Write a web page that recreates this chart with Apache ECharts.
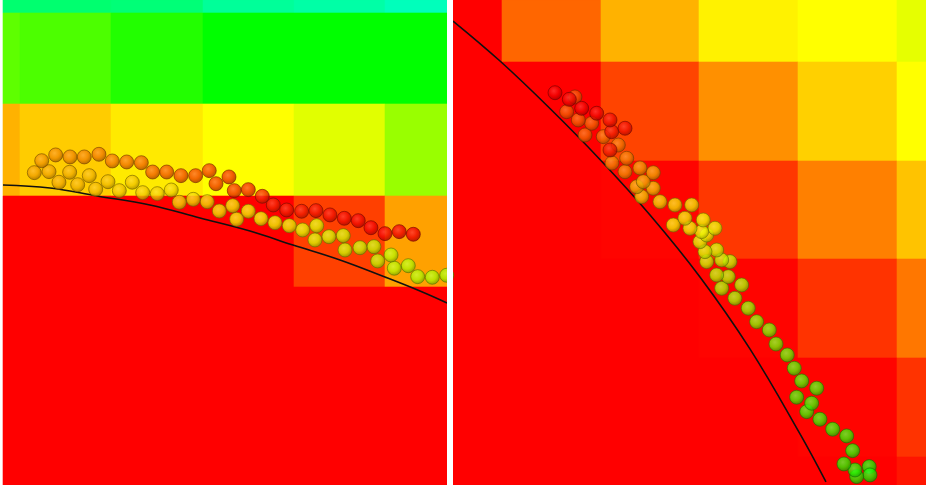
<!DOCTYPE html>
<html>
<head>
<meta charset="utf-8">
<script src="https://cdn.jsdelivr.net/npm/echarts@6/dist/echarts.min.js"></script>
<style>
html,body{margin:0;padding:0;background:#fff;}
#chart{width:926px;height:485px;}
</style>
</head>
<body>
<div id="chart"></div>
<script>
// ---------- heat map cells (cell starts, in axis units; value = hue in degrees) ----------
const leftCellX = [-10, 0, 10, 20, 30, 40];
const leftCellY = [-10, 0, 10, 20, 30, 40, 50];
const leftCellHue = [
  [146, 146, 148, 156, 159, 164],
  [98, 102, 112, 120, 120, 120],
  [42, 48, 55, 60, 67, 84],
  [0, 0, 0, 0, 15, 38],
  [0, 0, 0, 0, 0, 0],
  [0, 0, 0, 0, 0, 0],
  [0, 0, 0, 0, 0, 0]
];
const rightCellX = [-10, 0, 10, 20, 30, 40];
const rightCellY = [-10, 0, 10, 20, 30, 40];
const rightCellHue = [
  [0, 24, 42, 57, 60, 66],
  [0, 0, 16, 34, 49, 60],
  [0, 0, 1, 13, 30, 46],
  [0, 0, 0, 1, 12, 28],
  [0, 0, 0, 0, 1, 12],
  [0, 0, 0, 0, 0, 5]
];

// ---------- boundary curves ----------
const leftBoundary = [
  [-1.86, 18.84], [3.29, 19.17], [8.43, 20.04], [14.24, 21.03], [19.72, 22.45],
  [25.19, 23.88], [29.90, 25.41], [35.05, 27.05], [39.98, 28.92], [43.81, 30.45], [46.77, 31.76]
];
const rightBoundary = [
  [-4.96, -4.15], [-0.20, -0.10], [4.86, 4.71], [9.92, 9.87], [14.99, 15.49],
  [20.05, 21.77], [25.11, 29.06], [30.18, 37.67], [32.81, 42.53]
];

// ---------- trails: [x, y, hue] ----------
const leftTrail = [
  [46.74,28.73,78],[45.16,28.95,77],[43.56,28.88,76],[42.53,27.68,75],[41.00,27.96,74],
  [40.64,26.51,73],[39.18,27.16,72],[38.77,25.60,71],[37.24,25.71,70],[35.60,25.96,69],
  [35.41,24.39,68],[33.84,24.50,67],[32.31,24.86,66],[32.50,23.30,65],[30.96,23.77,64],
  [29.50,23.30,62],[27.93,22.97,61],[26.40,22.53,60],[25.01,21.72,59],[23.73,22.60,58],
  [23.30,21.11,57],[21.83,21.69,56],[20.51,20.67,55],[18.98,20.41,54],[17.45,20.73,53],
  [16.57,19.39,52],[15.04,19.79,51],[13.44,19.68,50],[12.30,18.54,49],[10.88,19.46,48],
  [9.64,18.48,47],[8.29,19.31,46],[7.59,17.82,45],[6.32,18.81,44],[5.44,17.45,43],
  [4.27,18.54,42],[3.18,17.38,41],[1.57,17.49,40],
  [2.38,16.18,37],[3.91,15.55,35],[5.48,15.77,34],[7.04,15.77,33],[8.65,15.48,31],
  [10.11,16.21,30],[11.69,16.32,28],[13.29,16.40,26],[14.53,17.42,24],[16.07,17.42,22],
  [17.63,17.82,20],[19.24,17.82,18],[20.73,17.27,16],[21.47,18.70,15],[22.89,17.96,13],
  [23.47,19.46,12],[25.01,19.35,10],[26.54,20.08,9],[27.74,21.03,8],[29.21,21.58,7],
  [30.85,21.72,6],[32.42,21.65,5],[33.95,22.12,4],[35.52,22.49,3],[37.05,22.75,2],
  [38.44,23.52,1],[39.98,24.17,1],[41.54,23.95,0],[43.08,24.24,0]
];
const rightTrail = [
  [37.19,40.98,114],[37.27,41.82,114],[35.92,41.99,112],[35.75,41.32,111],[34.63,40.71,110],
  [35.51,39.36,108],[34.91,37.87,107],[33.49,37.19,106],[32.20,36.18,105],[30.86,35.41,104],
  [31.36,34.56,103],[29.84,33.95,102],[31.87,33.04,101],[30.35,32.30,100],[29.60,31.02,98],
  [28.89,29.67,95],[27.75,28.56,92],[27.07,27.14,89],[25.79,26.30,86],[24.94,24.94,83],
  [23.59,23.93,80],[22.25,22.92,78],[24.27,22.58,77],[22.92,21.74,75],[21.74,21.57,74],
  [23.09,20.22,72],[22.25,20.05,70],[20.73,20.22,69],[21.74,19.04,68],[20.56,19.21,66],
  [20.05,18.20,64],[20.73,17.52,63],[21.57,16.84,62],[20.22,17.18,61],[20.38,16.00,60],
  [19.04,16.84,59],[17.35,16.51,58],[18.53,15.83,57],[19.21,14.48,56],[17.52,14.48,54],
  [16.00,14.15,52],[14.15,13.64,48],[15.32,12.79,46],[13.64,12.63,44],[14.31,12.12,42],
  [15.32,11.21,40],[13.97,10.73,38],[12.46,11.11,34],[11.14,10.23,32],[12.63,9.75,30],
  [11.78,8.41,28],[10.26,7.56,26],[8.41,7.39,25],[9.08,6.21,24],[7.73,5.87,23],
  [6.55,5.03,22],[7.39,3.54,20],
  [10.94,8.91,6],[11.11,7.06,5],[12.46,6.71,4],[10.94,5.87,3],[9.59,5.19,2],
  [8.07,4.69,1],[6.82,3.78,1],[5.37,3.11,0]
];

// ---------- helpers ----------
function hsl(h, l, a) {
  return 'hsla(' + h + ',100%,' + l + '%,' + (a == null ? 1 : a) + ')';
}
function heatData(xs, ys, hues) {
  const out = [];
  ys.forEach((y, r) => xs.forEach((x, c) => out.push([x, y, hues[r][c]])));
  return out;
}
function renderCell(params, api) {
  const x = api.value(0), y = api.value(1), h = api.value(2);
  const p0 = api.coord([x, y]);
  const p1 = api.coord([x + 10, y + 10]);
  const x0 = Math.round(Math.min(p0[0], p1[0])), x1 = Math.round(Math.max(p0[0], p1[0]));
  const y0 = Math.round(Math.min(p0[1], p1[1])), y1 = Math.round(Math.max(p0[1], p1[1]));
  const cs = params.coordSys;
  const rect = echarts.graphic.clipRectByRect(
    { x: x0, y: y0, width: x1 - x0, height: y1 - y0 },
    { x: cs.x, y: cs.y, width: cs.width, height: cs.height }
  );
  if (!rect) return;
  return { type: 'rect', shape: rect, style: { fill: hsl(h, 50), stroke: hsl(h, 50), lineWidth: 0.6 } };
}
function ballData(trail) {
  return trail.map(p => ({
    value: p,
    itemStyle: {
      color: new echarts.graphic.RadialGradient(0.42, 0.38, 0.62, [
        { offset: 0, color: hsl(p[2], 60) },
        { offset: 0.55, color: hsl(p[2], 47) },
        { offset: 1, color: hsl(p[2], 31) }
      ]),
      borderColor: hsl(p[2], 22, 0.75),
      borderWidth: 1
    }
  }));
}

const chart = echarts.init(document.getElementById('chart'), null, { renderer: 'canvas' });
const hiddenAxis = { show: false, splitLine: { show: false }, axisLine: { show: false } };
chart.setOption({
  animation: false,
  backgroundColor: '#ffffff',
  grid: [
    { left: 3, top: 0, width: 444, height: 485 },
    { left: 453, top: 0, width: 473, height: 485 }
  ],
  xAxis: [
    Object.assign({ type: 'value', gridIndex: 0, min: -1.86, max: 46.77 }, hiddenAxis),
    Object.assign({ type: 'value', gridIndex: 1, min: -4.96, max: 42.94 }, hiddenAxis)
  ],
  yAxis: [
    Object.assign({ type: 'value', gridIndex: 0, min: -1.42, max: 51.7, inverse: true }, hiddenAxis),
    Object.assign({ type: 'value', gridIndex: 1, min: -6.28, max: 42.84, inverse: true }, hiddenAxis)
  ],
  graphic: [
    { type: 'rect', left: 447, top: 0, shape: { width: 6, height: 485 }, style: { fill: '#ffffff' }, z: 100 }
  ],
  series: [
    { type: 'custom', xAxisIndex: 0, yAxisIndex: 0, renderItem: renderCell,
      data: heatData(leftCellX, leftCellY, leftCellHue), z: 1, silent: true },
    { type: 'custom', xAxisIndex: 1, yAxisIndex: 1, renderItem: renderCell,
      data: heatData(rightCellX, rightCellY, rightCellHue), z: 1, silent: true },
    { type: 'line', xAxisIndex: 0, yAxisIndex: 0, data: leftBoundary, smooth: 0.4,
      showSymbol: false, lineStyle: { color: '#111', width: 1.6 }, z: 3 },
    { type: 'line', xAxisIndex: 1, yAxisIndex: 1, data: rightBoundary, smooth: 0.4,
      showSymbol: false, lineStyle: { color: '#111', width: 1.6 }, z: 3 },
    { type: 'scatter', xAxisIndex: 0, yAxisIndex: 0, data: ballData(leftTrail),
      symbolSize: 14, z: 4 },
    { type: 'scatter', xAxisIndex: 1, yAxisIndex: 1, data: ballData(rightTrail),
      symbolSize: 14, z: 4 }
  ]
});
</script>
</body>
</html>
